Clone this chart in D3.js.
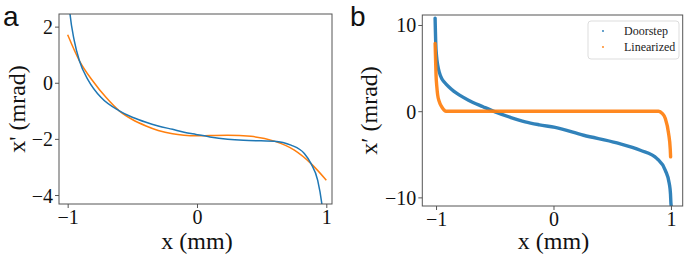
<!DOCTYPE html>
<html>
<head>
<meta charset="utf-8">
<script src="https://cdn.jsdelivr.net/npm/d3@7"></script>
<style>
  html, body { margin: 0; padding: 0; background: #fff; }
  svg { display: block; }
  .serif { font-family: "Liberation Serif", "Times New Roman", Times, serif; }
  .sans { font-family: "Liberation Sans", Arial, Helvetica, sans-serif; }
</style>
</head>
<body>
<svg id="chart" width="685" height="261"></svg>
<script>
// ---------- Data ----------
// Panel a: fitted curves x' (mrad) vs x (mm)
const aDoorstepX = [-0.995, -0.982, -0.949, -0.91, -0.838, -0.743, -0.601, -0.50, -0.394, -0.30, -0.189, -0.10, -0.008, 0.10, 0.237, 0.36, 0.495, 0.598, 0.727, 0.83, 0.882, 0.933, 0.967, 0.975];
const aDoorstepY = [3.1, 2.45, 1.5, 0.79, 0.07, -0.52, -1.0, -1.23, -1.41, -1.54, -1.66, -1.76, -1.84, -1.93, -2.01, -2.05, -2.07, -2.08, -2.22, -2.52, -2.88, -3.47, -4.37, -4.7];
const aLinearX = [-1.0, -0.91, -0.807, -0.704, -0.601, -0.50, -0.394, -0.30, -0.189, -0.10, -0.008, 0.10, 0.237, 0.418, 0.598, 0.753, 0.882, 1.0];
const aLinearY = [1.71, 0.79, 0.07, -0.52, -1.0, -1.31, -1.54, -1.70, -1.82, -1.87, -1.89, -1.88, -1.87, -1.91, -2.08, -2.40, -2.88, -3.47];

// Panel b: particle distributions
const bDoorstepX = [-1.008, -1.006, -1.003, -0.995, -0.986, -0.972, -0.952, -0.925, -0.89, -0.85, -0.80, -0.724, -0.60, -0.497, -0.37, -0.241, -0.12, 0.014, 0.256, 0.54, 0.739, 0.881, 0.952, 0.986, 0.996, 1.0, 1.002];
const bDoorstepY = [10.8, 9.6, 8.06, 6.3, 5.35, 4.5, 3.8, 3.3, 2.8, 2.33, 1.86, 1.28, 0.52, -0.08, -0.70, -1.24, -1.58, -1.88, -2.79, -3.68, -4.53, -5.5, -6.86, -8.41, -9.6, -10.73, -10.95];
const bLinearX = [-1.008, -1.004, -1.0, -0.993, -0.986, -0.972, -0.957, -0.935, -0.917, -0.6, -0.2, 0.2, 0.6, 0.895, 0.925, 0.952, 0.98, 0.994, 0.997];
const bLinearY = [7.87, 6.0, 4.19, 2.8, 1.86, 1.1, 0.62, 0.18, 0.0, 0.0, 0.0, 0.0, 0.0, 0.0, -0.25, -0.85, -2.6, -4.4, -5.3];

const seriesNames = ["Doorstep", "Linearized"];
const seriesColors = ["#1f77b4", "#ff7f0e"];

const xTicks = [-1, 0, 1];
const aYTicks = [-4, -2, 0, 2];
const bYTicks = [-10, 0, 10];

// ---------- Drawing ----------
const svg = d3.select("#chart");
const fmt = v => (v < 0 ? "\u2212" + Math.abs(v) : String(v));

function panel(opts) {
  const { left, right, top, bottom, xDom, yDom, yTicks, letter, letterX, letterY, ylabel, ylabelX } = opts;
  const x = d3.scaleLinear().domain(xDom).range([left, right]);
  const y = d3.scaleLinear().domain(yDom).range([bottom, top]);
  const g = svg.append("g");
  const clipId = "clip-" + letter;
  svg.append("clipPath").attr("id", clipId)
    .append("rect").attr("x", left).attr("y", top).attr("width", right - left).attr("height", bottom - top);

  const plot = g.append("g").attr("clip-path", `url(#${clipId})`);

  // axes
  const xa = g.append("g").attr("transform", `translate(0,${bottom})`)
    .call(d3.axisBottom(x).tickValues(xTicks).tickFormat(fmt).tickSize(4).tickPadding(2));
  const ya = g.append("g").attr("transform", `translate(${left},0)`)
    .call(d3.axisLeft(y).tickValues(yTicks).tickFormat(fmt).tickSize(4).tickPadding(2));
  [xa, ya].forEach(ax => {
    ax.attr("font-family", null).attr("font-size", null);
    ax.select(".domain").remove();
    ax.selectAll(".tick line").attr("stroke", "#555").attr("stroke-width", 1);
    ax.selectAll(".tick text").attr("class", "serif").style("font-size", "20px").attr("fill", "#111");
  });
  xa.selectAll(".tick text").attr("dy", "0.7em");
  ya.selectAll(".tick text").attr("dy", "0.35em");

  // frame
  g.append("rect").attr("x", left).attr("y", top).attr("width", right - left).attr("height", bottom - top)
    .attr("fill", "none").attr("stroke", "#555").attr("stroke-width", 1);

  // labels
  g.append("text").attr("class", "serif").attr("x", (x(-1) + x(1)) / 2).attr("y", 249).attr("text-anchor", "middle")
    .style("font-size", "24px").attr("fill", "#111").text("x (mm)");
  g.append("text").attr("class", "serif").attr("transform", `translate(${ylabelX},${(top + bottom) / 2}) rotate(-90)`)
    .attr("text-anchor", "middle").style("font-size", "24px").attr("fill", "#111").text(ylabel);
  g.append("text").attr("class", "sans").attr("x", letterX).attr("y", letterY).style("font-size", "28px")
    .attr("fill", "#111").text(letter);

  return { x, y, plot, g };
}

// Panel a
const pa = panel({ left: 59, right: 332, top: 14, bottom: 204, xDom: [-1.067, 1.044], yDom: [-4.32, 2.45],
  yTicks: aYTicks, letter: "a", letterX: 3, letterY: 26, ylabel: "x' (mrad)", ylabelX: 25 });
const lineA = d3.line().x(d => pa.x(d[0])).y(d => pa.y(d[1])).curve(d3.curveMonotoneX);
pa.plot.append("path").datum(d3.zip(aLinearX, aLinearY)).attr("d", lineA)
  .attr("fill", "none").attr("stroke", seriesColors[1]).attr("stroke-width", 1.5);
pa.plot.append("path").datum(d3.zip(aDoorstepX, aDoorstepY)).attr("d", lineA)
  .attr("fill", "none").attr("stroke", seriesColors[0]).attr("stroke-width", 1.5);

// Panel b
const pb = panel({ left: 422.3, right: 682.7, top: 15, bottom: 206, xDom: [-1.117, 1.10], yDom: [-11.0, 11.16],
  yTicks: bYTicks, letter: "b", letterX: 350, letterY: 26, ylabel: "x\u2032 (mrad)", ylabelX: 377 });
const lineB = d3.line().x(d => pb.x(d[0])).y(d => pb.y(d[1])).curve(d3.curveMonotoneX);
pb.plot.append("path").datum(d3.zip(bDoorstepX, bDoorstepY)).attr("d", lineB)
  .attr("fill", "none").attr("stroke", seriesColors[0]).attr("stroke-width", 3.4)
  .attr("stroke-linecap", "round").attr("stroke-opacity", 0.92);
pb.plot.append("path").datum(d3.zip(bLinearX, bLinearY)).attr("d", lineB)
  .attr("fill", "none").attr("stroke", seriesColors[1]).attr("stroke-width", 3.4)
  .attr("stroke-linecap", "round").attr("stroke-opacity", 0.92);

// Legend
const leg = pb.g.append("g");
leg.append("rect").attr("x", 588).attr("y", 21).attr("width", 91).attr("height", 38).attr("rx", 3)
  .attr("fill", "#fff").attr("fill-opacity", 0.8).attr("stroke", "#ddd").attr("stroke-width", 1);
seriesNames.forEach((name, i) => {
  const cy = 31 + i * 16;
  leg.append("circle").attr("cx", 603).attr("cy", cy).attr("r", 0.9).attr("fill", seriesColors[i]);
  leg.append("text").attr("class", "serif").attr("x", 624).attr("y", cy).attr("dy", "0.35em")
    .style("font-size", "12px").attr("fill", "#222").text(name);
});
</script>
</body>
</html>
